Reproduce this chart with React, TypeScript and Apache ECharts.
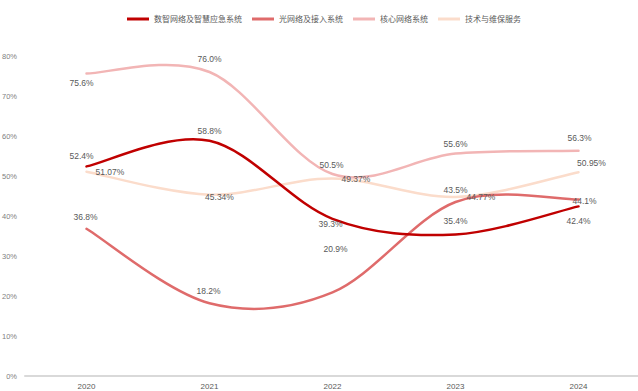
import React, { useEffect, useRef } from "react";
import * as echarts from "echarts";

// Years on the category axis
const years = ["2020", "2021", "2022", "2023", "2024"];

// Revenue share (%) per business line
const seriesNames = [
  "数智网络及智慧应急系统",
  "光网络及接入系统",
  "核心网络系统",
  "技术与维保服务",
];
const smartNetwork = [52.4, 58.8, 39.3, 35.4, 42.4];
const opticalAccess = [36.8, 18.2, 20.9, 43.5, 44.1];
const coreNetwork = [75.6, 76.0, 50.5, 55.6, 56.3];
const techService = [51.07, 45.34, 49.37, 44.77, 50.95];
const decimals = [1, 1, 1, 2];

// Y axis range
const yMin = 0;
const yMax = 80;
const yStep = 10;

const colors = ["#C00000", "#DF6B6B", "#F2B5B5", "#FBDCCB"];

// Where each point's value label sits: [position, offset]
type Place = [string, [number, number]];
const placements: Place[][] = [
  [
    ["top", [-5, -1]],
    ["top", [0, 0]],
    ["inside", [-2, 5]],
    ["top", [0, -4]],
    ["bottom", [0, 5]],
  ],
  [
    ["top", [-1, -2]],
    ["top", [-1, -3]],
    ["top", [3, -34]],
    ["top", [0, -3]],
    ["inside", [6, 1]],
  ],
  [
    ["bottom", [-5, 0]],
    ["top", [0, -4]],
    ["top", [-1, 0]],
    ["top", [0, 0]],
    ["top", [1, -3]],
  ],
  [
    ["right", [4, 0]],
    ["inside", [10, 2]],
    ["right", [4, 0]],
    ["right", [6, 0]],
    ["top", [13, 0]],
  ],
];

const values = [smartNetwork, opticalAccess, coreNetwork, techService];

// Cardinal-spline path through pixel points (1/6 tangent factor)
function splinePath(pts: number[][]): string {
  const n = pts.length;
  let d = `M${pts[0][0]},${pts[0][1]}`;
  for (let i = 0; i < n - 1; i++) {
    const p0 = pts[Math.max(i - 1, 0)];
    const p1 = pts[i];
    const p2 = pts[i + 1];
    const p3 = pts[Math.min(i + 2, n - 1)];
    const c1x = p1[0] + (p2[0] - p0[0]) / 6;
    const c1y = p1[1] + (p2[1] - p0[1]) / 6;
    const c2x = p2[0] - (p3[0] - p1[0]) / 6;
    const c2y = p2[1] - (p3[1] - p1[1]) / 6;
    d += ` C${c1x},${c1y} ${c2x},${c2y} ${p2[0]},${p2[1]}`;
  }
  return d;
}

export default function App() {
  const ref = useRef<HTMLDivElement>(null);

  useEffect(() => {
    if (!ref.current) return;
    const chart = echarts.init(ref.current, undefined, { renderer: "svg" });

    // Smooth curves drawn through the axis scales
    const curves = values.map((vals, si) => ({
      type: "custom" as const,
      z: 10 - si,
      silent: true,
      encode: { x: 0, y: 1 },
      data: vals.map((v, i) => [i, v]),
      renderItem: (params: any, api: any) => {
        if (params.dataIndex !== 0) return null;
        const pts = vals.map((v, i) => api.coord([i, v]));
        return {
          type: "path",
          shape: { pathData: splinePath(pts) },
          style: {
            fill: "none",
            stroke: colors[si],
            lineWidth: 2.5,
            lineCap: "round",
            lineJoin: "round",
          },
        };
      },
    }));

    // Invisible line series carrying legend entries and value labels
    const labelled = values.map((vals, si) => ({
      name: seriesNames[si],
      type: "line" as const,
      symbol: "circle",
      symbolSize: 0,
      z: 20,
      lineStyle: { color: colors[si], width: 0, opacity: 0 },
      itemStyle: { color: colors[si] },
      data: vals.map((v, i) => ({
        value: v,
        label: {
          show: true,
          position: placements[si][i][0],
          offset: placements[si][i][1],
          distance: 5,
          formatter: () => v.toFixed(decimals[si]) + "%",
          color: "#595959",
          fontSize: 8.5,
          fontFamily: "Liberation Sans, Arial, sans-serif",
        },
      })),
    }));

    chart.setOption({
      animation: false,
      backgroundColor: "#ffffff",
      legend: {
        data: seriesNames,
        left: 122,
        top: 10,
        icon: "rect",
        itemWidth: 22,
        itemHeight: 3,
        itemGap: 10,
        textStyle: {
          fontSize: 8,
          color: "#595959",
          fontFamily: "Noto Sans CJK SC",
        },
      },
      grid: {
        left: 25,
        right: -2,
        top: 56,
        bottom: 15,
        outerBoundsMode: "none",
      },
      xAxis: {
        type: "category",
        data: years,
        boundaryGap: true,
        axisLine: { lineStyle: { color: "#D9D9D9", width: 2 } },
        axisTick: { show: false },
        axisLabel: {
          color: "#595959",
          fontSize: 8,
          margin: 6,
          fontFamily: "Liberation Sans, Arial, sans-serif",
        },
      },
      yAxis: {
        type: "value",
        min: yMin,
        max: yMax,
        interval: yStep,
        splitLine: { show: false },
        axisLine: { show: false },
        axisTick: { show: false },
        axisLabel: {
          formatter: "{value}%",
          color: "#7F7F7F",
          fontSize: 7.5,
          margin: 8,
          fontFamily: "Liberation Sans, Arial, sans-serif",
        },
      },
      series: [...curves, ...labelled],
    });

    return () => chart.dispose();
  }, []);

  return (
    <div
      ref={ref}
      style={{ position: "fixed", left: 0, top: 0, width: 638, height: 391 }}
    />
  );
}
